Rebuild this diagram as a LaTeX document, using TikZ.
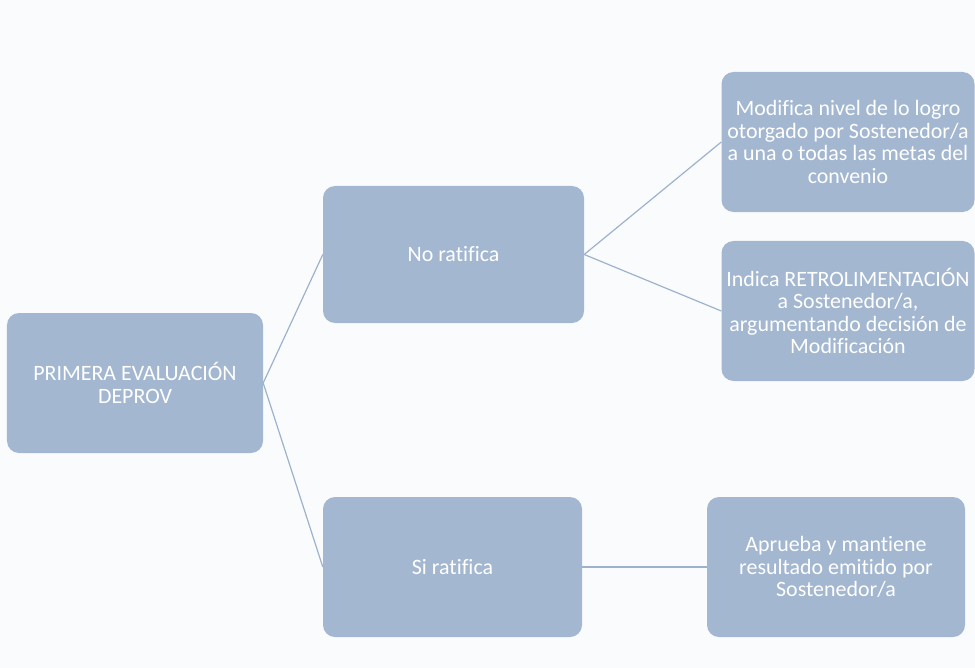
\documentclass[tikz,border=0pt]{standalone}
\usepackage{fontspec}
\setmainfont{Carlito}[Ligatures={NoCommon}]
\usetikzlibrary{positioning}
\definecolor{boxblue}{RGB}{163,183,208}
\definecolor{lineblue}{RGB}{158,178,204}
\definecolor{paper}{RGB}{250,251,253}
\begin{document}
\begin{tikzpicture}[x=1bp, y=-1bp,
    n/.style={rectangle, rounded corners=12bp, fill=boxblue, text=white, align=center,
      font=\fontsize{22}{22.5}\selectfont, inner sep=0pt},
    a/.style={draw=lineblue, line width=1.2bp},
]
\fill[paper] (0,0) rectangle (975,668);
\useasboundingbox (0,0) rectangle (975,668);
\node[n, minimum width=256bp, minimum height=140bp] (prim) at (135,383) {PRIMERA EVALUACIÓN\\DEPROV};
\node[n, minimum width=261bp, minimum height=137bp] (nr) at (453.5,254.5) {No ratifica};
\node[n, minimum width=259bp, minimum height=140bp] (sr) at (452.5,567) {Si ratifica};
\node[n, minimum width=253bp, minimum height=140bp] (mod) at (848,142) {Modifica nivel de lo logro\\otorgado por Sostenedor/a\\a una o todas las metas del\\convenio};
\node[n, minimum width=253bp, minimum height=140bp] (ind) at (848,311) {Indica RETROLIMENTACIÓN\\a Sostenedor/a,\\argumentando decisión de\\Modificación};
\node[n, minimum width=258bp, minimum height=140bp] (apr) at (836,567) {Aprueba y mantiene\\resultado emitido por\\Sostenedor/a};
\draw[a] (prim.east) -- (nr.west);
\draw[a] (prim.east) -- (sr.west);
\draw[a] (nr.east) -- (mod.west);
\draw[a] (nr.east) -- (ind.west);
\draw[a] (sr.east) -- (apr.west);
\end{tikzpicture}
\end{document}
